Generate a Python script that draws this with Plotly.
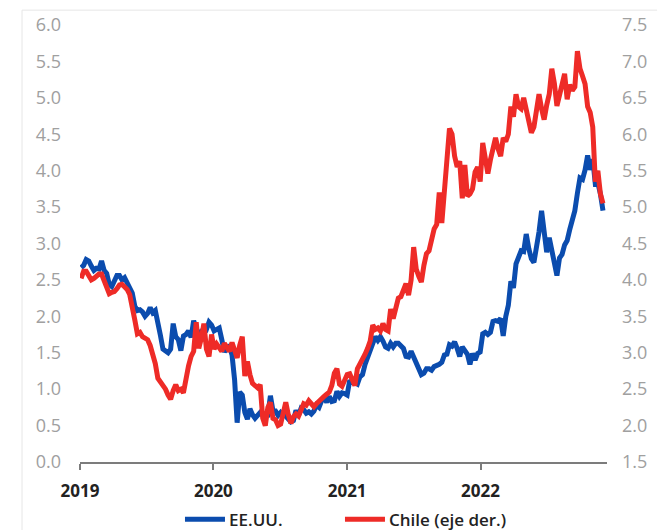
import pandas as pd
import plotly.graph_objects as go

# Weekly (Friday) observations, 10-year government bond yields, %
week_start = "2019-01-04"

us_2019 = [2.67, 2.70, 2.78, 2.76, 2.69, 2.63, 2.66, 2.65, 2.76, 2.63,
           2.59, 2.44, 2.41, 2.50, 2.56, 2.56, 2.50, 2.53, 2.47, 2.39,
           2.32, 2.14, 2.08, 2.09, 2.06, 2.00, 2.04, 2.12, 2.05, 2.08,
           1.86, 1.74, 1.55, 1.52, 1.50, 1.55, 1.90, 1.72, 1.68, 1.53,
           1.73, 1.75, 1.80, 1.71, 1.94, 1.83, 1.77, 1.78, 1.84, 1.82,
           1.92, 1.88]
us_2020 = [1.80, 1.82, 1.84, 1.68, 1.51, 1.58, 1.59, 1.47, 1.13, 0.54,
           0.96, 0.92, 0.68, 0.59, 0.73, 0.65, 0.60, 0.64, 0.68, 0.64,
           0.66, 0.65, 0.91, 0.70, 0.70, 0.64, 0.68, 0.64, 0.63, 0.59,
           0.55, 0.57, 0.71, 0.64, 0.74, 0.72, 0.67, 0.69, 0.66, 0.70,
           0.78, 0.75, 0.84, 0.88, 0.82, 0.90, 0.83, 0.84, 0.97, 0.90,
           0.95, 0.94]
us_2021 = [0.92, 1.12, 1.09, 1.09, 1.07, 1.17, 1.20, 1.34, 1.44, 1.57,
           1.63, 1.72, 1.67, 1.72, 1.66, 1.58, 1.56, 1.63, 1.58, 1.63,
           1.63, 1.59, 1.56, 1.45, 1.44, 1.52, 1.43, 1.36, 1.29, 1.20,
           1.22, 1.28, 1.28, 1.26, 1.31, 1.32, 1.34, 1.37, 1.47, 1.48,
           1.61, 1.59, 1.65, 1.56, 1.45, 1.58, 1.54, 1.48, 1.34, 1.49,
           1.40, 1.49, 1.51]
us_2022 = [1.76, 1.78, 1.75, 1.78, 1.93, 1.94, 1.93, 1.97, 1.73, 2.00,
           2.15, 2.48, 2.39, 2.72, 2.83, 2.90, 2.89, 3.13, 2.93, 2.79,
           2.74, 2.94, 3.16, 3.45, 3.13, 2.88, 3.08, 2.93, 2.77, 2.56,
           2.80, 2.85, 2.98, 3.04, 3.19, 3.32, 3.45, 3.69, 3.90, 3.88,
           4.01, 4.21, 4.01, 4.16, 3.82, 3.83, 3.68, 3.45]

chile_2019 = [4.02, 4.12, 4.12, 4.06, 4.00, 4.02, 4.05, 4.08, 4.08, 3.98,
              3.92, 3.81, 3.83, 3.84, 3.88, 3.93, 3.94, 3.90, 3.87, 3.80,
              3.66, 3.45, 3.26, 3.28, 3.22, 3.20, 3.18, 3.10, 2.98, 2.85,
              2.65, 2.60, 2.55, 2.50, 2.42, 2.36, 2.48, 2.56, 2.48, 2.50,
              2.45, 2.65, 2.82, 2.95, 3.02, 3.42, 3.06, 3.20, 3.40, 3.05,
              2.95, 3.25]
chile_2020 = [3.05, 3.12, 3.08, 3.02, 3.13, 3.08, 3.02, 3.14, 3.05, 2.93,
              3.10, 3.22, 2.68, 2.88, 2.70, 2.58, 2.55, 2.52, 2.56, 2.10,
              2.00, 2.25, 2.32, 2.10, 2.08, 2.00, 2.02, 2.20, 2.32, 2.15,
              2.03, 2.12, 2.16, 2.13, 2.24, 2.30, 2.28, 2.34, 2.30, 2.26,
              2.30, 2.34, 2.37, 2.40, 2.43, 2.46, 2.55, 2.72, 2.78, 2.57,
              2.54, 2.61]
chile_2021 = [2.70, 2.71, 2.62, 2.55, 2.78, 2.84, 2.90, 2.98, 3.06, 3.16,
              3.38, 3.32, 3.34, 3.30, 3.40, 3.32, 3.30, 3.60, 3.47, 3.65,
              3.75, 3.77, 3.85, 3.95, 3.79, 4.00, 4.45, 4.15, 4.05, 3.97,
              4.20, 4.36, 4.40, 4.55, 4.70, 4.76, 5.20, 4.78, 5.25, 5.75,
              6.08, 6.00, 5.70, 5.55, 5.63, 5.12, 5.58, 5.15, 5.18, 5.25,
              5.48, 5.55, 5.35]
chile_2022 = [5.88, 5.65, 5.46, 5.65, 5.80, 5.95, 5.80, 5.70, 5.95, 5.90,
              6.00, 6.38, 6.24, 6.55, 6.38, 6.35, 6.50, 6.35, 6.20, 6.02,
              6.10, 6.30, 6.55, 6.35, 6.20, 6.40, 6.55, 6.90, 6.70, 6.39,
              6.55, 6.70, 6.83, 6.48, 6.68, 6.60, 6.65, 7.14, 6.90, 6.80,
              6.69, 6.38, 6.30, 6.10, 5.35, 5.50, 5.18, 5.05]

year_ticks = ["2019-01-01", "2020-01-01", "2021-01-01", "2022-01-01"]
year_labels = ["2019", "2020", "2021", "2022"]
left_ticks = [0.0, 0.5, 1.0, 1.5, 2.0, 2.5, 3.0, 3.5, 4.0, 4.5, 5.0, 5.5, 6.0]
right_ticks = [1.5, 2.0, 2.5, 3.0, 3.5, 4.0, 4.5, 5.0, 5.5, 6.0, 6.5, 7.0, 7.5]

us = us_2019 + us_2020 + us_2021 + us_2022
chile = chile_2019 + chile_2020 + chile_2021 + chile_2022
dates = pd.date_range(week_start, periods=len(us), freq="7D")

BLUE = "#0b4cae"
RED = "#ee2b27"
FONT = "Open Sans"

fig = go.Figure()
fig.add_trace(go.Scatter(x=dates, y=us, mode="lines", name="EE.UU.",
                         line=dict(color=BLUE, width=5), showlegend=False))
fig.add_trace(go.Scatter(x=dates, y=chile, mode="lines", name="Chile (eje der.)",
                         yaxis="y2", line=dict(color=RED, width=5),
                         showlegend=False))

tick_font = dict(family=FONT, size=18, color="#a0a0a0")

fig.update_layout(
    width=665, height=530,
    margin=dict(l=80, r=58, t=20, b=68),
    paper_bgcolor="white", plot_bgcolor="white",
    font=dict(family=FONT),
    xaxis=dict(type="date", range=["2019-01-01", "2022-12-13"],
               tickvals=year_ticks, ticktext=year_labels,
               showline=True, linecolor="#7c7c7c", linewidth=1.5,
               ticks="outside", ticklen=6, tickwidth=1.5, tickcolor="#7c7c7c",
               tickfont=dict(family=FONT, size=17, color="#222222", weight="bold"),
               ticklabelstandoff=7, showgrid=False, zeroline=False),
    yaxis=dict(range=[0, 6], tickvals=left_ticks, tickformat=".1f",
               showgrid=False, zeroline=False, showline=False,
               tickfont=tick_font, ticklabelstandoff=18),
    yaxis2=dict(range=[1.5, 7.5], tickvals=right_ticks, tickformat=".1f",
                overlaying="y", side="right",
                showgrid=False, zeroline=False, showline=False,
                tickfont=tick_font, ticklabelstandoff=14),
)

# Light frame along the top and left edges of the card
frame = "#e6e6e6"
fig.add_shape(type="line", xref="paper", yref="paper",
              x0=-0.110, x1=1.095, y0=1.034, y1=1.034,
              line=dict(color=frame, width=1))
fig.add_shape(type="line", xref="paper", yref="paper",
              x0=-0.110, x1=-0.110, y0=1.034, y1=-0.16,
              line=dict(color=frame, width=1))

# Legend drawn below the axis
legend_items = [("EE.UU.", BLUE, 0.1992, 0.2751),
                ("Chile (eje der.)", RED, 0.5028, 0.5787)]
for label, color, xa, xb in legend_items:
    fig.add_shape(type="line", xref="paper", yref="paper",
                  x0=xa, x1=xb, y0=-0.131, y1=-0.131,
                  line=dict(color=color, width=5))
    fig.add_annotation(xref="paper", yref="paper", x=xb + 0.004, y=-0.131,
                       text=label, showarrow=False, xanchor="left",
                       yanchor="middle",
                       font=dict(family=FONT, size=17, color="#222222",
                                 weight=600))

fig.write_html("out.html")
